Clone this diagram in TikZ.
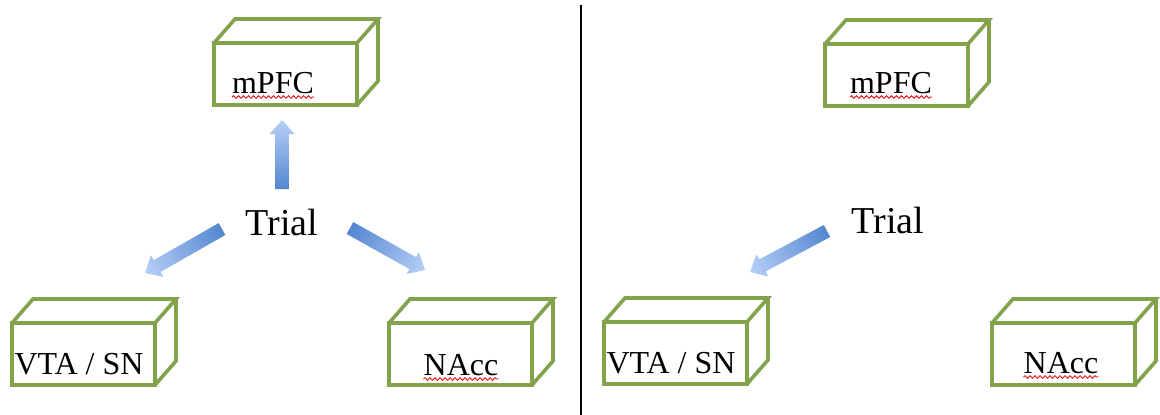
\documentclass[tikz,border=0pt]{standalone}
\usepackage{fontspec}
\setmainfont{Liberation Serif}
\usetikzlibrary{calc,decorations.pathmorphing}
\definecolor{boxgreen}{RGB}{130,162,76}
\definecolor{arrdark}{RGB}{84,134,208}
\definecolor{arrlight}{RGB}{182,208,247}
\tikzset{
  cubefront/.style={draw=boxgreen, line width=3.6pt, fill=white, minimum width=143pt,
    minimum height=62pt, inner sep=0pt, outer sep=0pt, anchor=north west},
  cubeedge/.style={draw=boxgreen, line width=3.6pt, line join=miter},
  lbl/.style={font=\fontsize{32}{36}\selectfont, anchor=base, inner sep=0pt},
  triallbl/.style={font=\fontsize{38}{44}\selectfont, anchor=base, inner sep=0pt},
  spell/.style={draw=red!90!black, line width=0.8pt, decorate,
    decoration={snake, amplitude=1.3pt, segment length=5pt}},
  divider/.style={draw=black, line width=1.5pt}
}
\newcommand\cubebox[3]{%
  \draw[cubeedge] (#2,#3) -- ++(21,-24) -- ++(143,0) coordinate (#1-bk) -- ++(-21,24);
  \draw[cubeedge] (#1-bk) -- ++(0,62) -- ++(-21,24);
  \node[cubefront] (#1) at (#2,#3) {};
}
\newcommand\blockarrow[2]{%
  \path (#1); \pgfgetlastxy{\ax}{\ay}%
  \path (#2); \pgfgetlastxy{\bx}{\by}%
  \pgfmathsetmacro\ang{atan2(\by-\ay,\bx-\ax)}%
  \pgfmathsetmacro\len{veclen(\bx-\ax,\by-\ay)}%
  \begin{scope}[transform canvas={shift={(#1)}, rotate=\ang}, x=1pt, y=1pt]
    \shade[left color=arrdark, right color=arrlight]
      (0,-6.8) -- (\len-14,-6.8) -- (\len-14,-12.5) -- (\len,0) -- (\len-14,12.5)
      -- (\len-14,6.8) -- (0,6.8) -- cycle;
  \end{scope}}
\begin{document}
\begin{tikzpicture}[x=1pt, y=-1pt]
  \useasboundingbox[fill=white] (0,0) rectangle (1160,415);
  % divider
  \coordinate (dtop) at (581,5);
  \coordinate (dbot) at (581,415);
  \draw[divider] (dtop) -- (dbot);
  % left panel boxes
  \cubebox{lm}{214}{43}
  \cubebox{lv}{12}{323}
  \cubebox{ln}{389}{323}
  % right panel boxes
  \cubebox{rm}{825}{44}
  \cubebox{rv}{604}{322}
  \cubebox{rn}{992}{323}
  % labels
  \node[lbl] (lmt) at (273,93) {mPFC};
  \node[lbl] (lvt) at (79,374) {VTA / SN};
  \node[lbl] (lnt) at (461,375) {NAcc};
  \node[lbl] (rmt) at (891,93) {mPFC};
  \node[lbl] (rvt) at (671,373) {VTA / SN};
  \node[lbl] (rnt) at (1061,373) {NAcc};
  \node[triallbl] (ltr) at (282,235) {Trial};
  \node[triallbl] (rtr) at (888,233) {Trial};
  % spell-check squiggles
  \draw[spell] ($(lmt.base west)+(0,4)$) -- ($(lmt.base east)+(0,4)$);
  \draw[spell] ($(lnt.base west)+(0,4)$) -- ($(lnt.base east)+(0,4)$);
  \draw[spell] ($(rmt.base west)+(0,4)$) -- ($(rmt.base east)+(0,4)$);
  \draw[spell] ($(rnt.base west)+(0,4)$) -- ($(rnt.base east)+(0,4)$);
  % arrows
  \coordinate (a1t) at (282,189); \coordinate (a1h) at (282,120);
  \coordinate (a2t) at (222,229); \coordinate (a2h) at (145,273);
  \coordinate (a3t) at (350,228); \coordinate (a3h) at (425,270);
  \coordinate (a4t) at (827,231); \coordinate (a4h) at (750,272);
  \blockarrow{a1t}{a1h}
  \blockarrow{a2t}{a2h}
  \blockarrow{a3t}{a3h}
  \blockarrow{a4t}{a4h}
\end{tikzpicture}
\end{document}
